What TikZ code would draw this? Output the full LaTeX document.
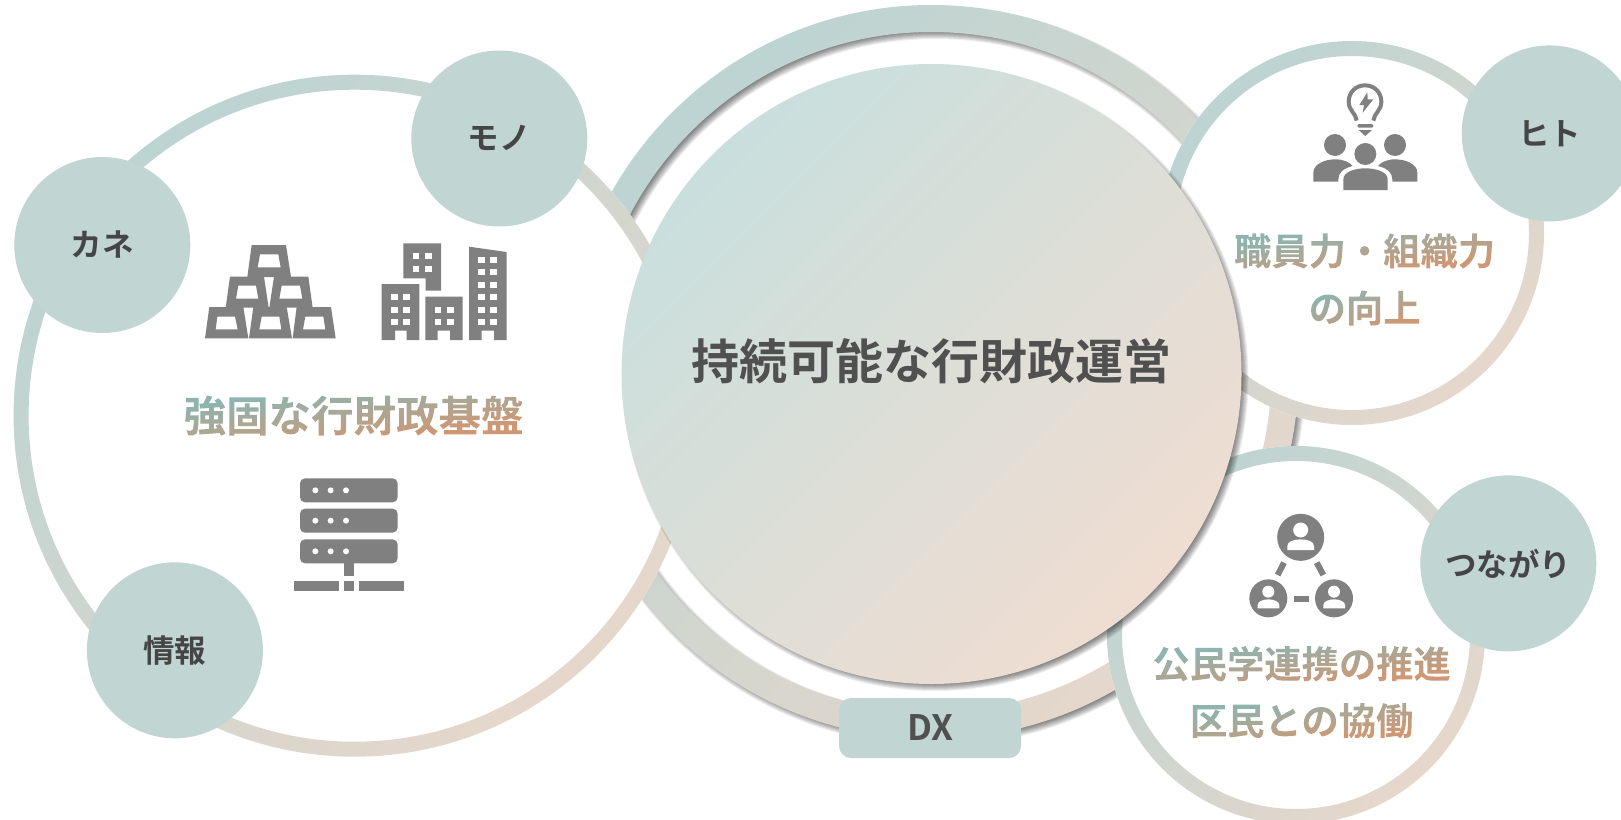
\documentclass[tikz,border=0pt]{standalone}
\usepackage{fontspec}
\setmainfont{Noto Sans CJK JP}
\newfontfamily\jpbold{Noto Sans CJK JP Bold}
\definecolor{gA}{HTML}{8FB3AF}
\definecolor{gB}{HTML}{CF9773}
\definecolor{ringA}{HTML}{BCD4D2}
\definecolor{ringB}{HTML}{E6D7CB}
\definecolor{midA}{HTML}{C9DFDD}
\definecolor{midB}{HTML}{EFDDD1}
\definecolor{teal}{HTML}{C1D5D3}
\definecolor{ink}{HTML}{454545}
\definecolor{titleink}{HTML}{505050}
\definecolor{icon}{HTML}{808080}
\newsavebox\gbox
\newcommand{\gtext}[1]{%
  \sbox\gbox{#1}%
  \pgfmathsetmacro\gw{\wd\gbox/100}%
  \pgfmathsetmacro\gh{(\ht\gbox+\dp\gbox)/100}%
  \pgfmathsetmacro\gd{\dp\gbox}%
  \special{x:gsave}%
  \rlap{\special{pdf:code 7 Tr}#1\special{pdf:code 0 Tr}}%
  \tikz[overlay,x=1pt,y=1pt]{\begin{scope}[transform canvas={yshift=-\gd pt,xscale=\gw,yscale=\gh}]
    \shade[top color=gA,bottom color=gB,shading angle=45] (0,0) rectangle (100,100);\end{scope}}%
  \special{x:grestore}%
  \phantom{#1}}
\newcommand{\lifted}[1]{\raisebox{1.6pt}{#1}}
\tikzset{
  gradring/.style={even odd rule,top color=ringA,bottom color=ringB,shading angle=45},
  smallc/.style={circle,fill=teal,minimum size=176pt,inner sep=0pt,text=ink,font=\jpbold\fontsize{31.5}{32}\selectfont},
  dxbox/.style={rectangle,rounded corners=12pt,fill=teal,minimum width=182pt,minimum height=60pt,inner sep=0pt,text=titleink,font=\jpbold\fontsize{35}{36}\selectfont},
  titletext/.style={inner sep=0pt,text=titleink,font=\jpbold\fontsize{48}{48}\selectfont},
  bigtext/.style={inner sep=0pt,font=\jpbold\fontsize{42.5}{43}\selectfont},
  midtext/.style={inner sep=0pt,font=\jpbold\fontsize{37.3}{38}\selectfont},
  zoomframe/.style={shift={#1},x=0.33333pt,y=-0.33333pt},
}
\newcommand{\gridwin}[2]{\foreach \wx in {#1}{\foreach \wy in {#2}{\fill[white] (\wx,\wy) rectangle ++(20,18);}}}
\begin{document}
\begin{tikzpicture}[x=1pt,y=-1pt]
\useasboundingbox (0,0) rectangle (1621,819);
\fill[white] (0,0) rectangle (1621,819);
\clip (0,0) rectangle (1621,819);
% big ring with shadow
\foreach \i in {0,...,9}{
  \fill[black,opacity=.07,even odd rule] (935.5,376) circle[radius={370-\i*1 pt}] (935.5,376) circle[radius={337+\i*1 pt}];
}
\shade[gradring] (931.5,372) circle[radius=367pt] (931.5,372) circle[radius=340pt];
% left circle
\fill[white] (354.6,415.7) circle[radius=341pt];
\shade[gradring] (354.6,415.7) circle[radius=341pt] (354.6,415.7) circle[radius=326pt];
% top-right circle
\fill[white] (1352,233) circle[radius=192pt];
\shade[gradring] (1352,233) circle[radius=192pt] (1352,233) circle[radius=177pt];
% bottom-right circle
\fill[white] (1296,635) circle[radius=189pt];
\shade[gradring] (1296,635) circle[radius=189pt] (1296,635) circle[radius=174pt];
% central disc with shadow
\foreach \i in {0,...,9}{
  \fill[black,opacity=.07] (935.5,378) circle[radius={313-\i*1 pt}];
}
\shade[top color=midA,bottom color=midB,shading angle=45] (931.5,374) circle[radius=310pt];
\node[titletext] (title) at (931,361) {持続可能な行財政運営};
% small circles
\node[smallc] (kane) at (102.3,245) {\lifted{カネ}};
\node[smallc] (mono) at (499.3,138.5) {\lifted{モノ}};
\node[smallc] (joho) at (174.9,650.3) {\lifted{情報}};
\node[smallc] (hito) at (1549.7,133.4) {\lifted{ヒト}};
\node[smallc] (tsunagari) at (1508.3,563.4) {\lifted{つながり}};
\node[dxbox] (dx) at (930,728) {DX};
% gradient labels
\node[bigtext] (kiban) at (353.6,415.6) {\gtext{強固な行財政基盤}};
\node[midtext] (l1) at (1364.6,251) {\gtext{職員力・組織力}};
\node[midtext] (l2) at (1364.6,308) {\gtext{の向上}};
\node[midtext] (l3) at (1301.6,663.7) {\gtext{公民学連携の推進}};
\node[midtext] (l4) at (1301.6,720.6) {\gtext{区民との協働}};
% gold bars
\begin{scope}[zoomframe={(180,220)},even odd rule]
\fill[icon] (215,75)--(318,75)--(333,171)--(202,171)--cycle (240,103)--(295,103)--(302,142)--(233,142)--cycle;
\fill[icon] (150,170)--(252,170)--(266,263)--(137,263)--cycle (175,197)--(228,197)--(235,236)--(168,236)--cycle;
\fill[icon] (282,170)--(385,170)--(398,263)--(268,263)--cycle (305,197)--(360,197)--(367,236)--(298,236)--cycle;
\fill[icon] (88,261)--(190,261)--(205,355)--(75,355)--cycle (112,290)--(165,290)--(173,328)--(107,328)--cycle;
\fill[icon] (220,261)--(320,261)--(336,355)--(207,355)--cycle (245,290)--(298,290)--(304,328)--(238,328)--cycle;
\fill[icon] (350,261)--(453,261)--(467,355)--(338,355)--cycle (376,290)--(430,290)--(436,328)--(369,328)--cycle;
\end{scope}
% buildings
\begin{scope}[zoomframe={(180,220)}]
\fill[icon] (670,70)--(783,70)--(783,212)--(737,212)--(737,175)--(670,175)--cycle;
\fill[icon] (605,192)--(718,192)--(718,360)--(680,360)--(680,332)--(645,332)--(645,360)--(605,360)--cycle;
\fill[icon] (736,230)--(848,230)--(848,360)--(810,360)--(810,332)--(773,332)--(773,360)--(736,360)--cycle;
\fill[icon] (867,80)--(980,96)--(980,360)--(942,360)--(942,332)--(905,332)--(905,360)--(867,360)--cycle;
\gridwin{698,736}{100,137}
\gridwin{633,670}{222,260,297}
\gridwin{764,801}{260,297}
\gridwin{894,931}{112,148,185,222,260,297}
% server
\foreach \ry in {775,866,958}{
  \fill[icon,rounded corners=5pt] (360,\ry) rectangle (653,\ry+72);
  \foreach \dx in {406,452,498}{\fill[white] (\dx,\ry+36) circle[radius=3pt];}
}
\fill[icon] (492,1030) rectangle (522,1067);
\fill[icon] (342,1083) rectangle (477,1112);
\fill[icon] (492,1083) rectangle (522,1112);
\fill[icon] (537,1083) rectangle (672,1112);
\end{scope}
% people and bulb
\begin{scope}[zoomframe={(1280,60)}]
\draw[icon,line width=4pt,fill=white] (230,182) .. controls (228,160) and (206,152) .. (206,125) .. controls (206,97) and (227,76) .. (255,76) .. controls (283,76) and (304,97) .. (304,125) .. controls (304,152) and (282,160) .. (280,182);
\fill[icon] (262,97)--(238,135)--(252,135)--(248,158)--(280,118)--(263,118)--cycle;
\fill[icon,rounded corners=1.5pt] (232,192) rectangle (280,203);
\fill[icon] (236,210)--(276,210)--(256,228)--cycle;
\fill[icon] (165,255) circle[radius=11pt];
\fill[icon] (345,255) circle[radius=11pt];
\fill[icon] (256,282) circle[radius=11pt];
\fill[icon] (100,365)--(100,338) .. controls (100,312) and (135,298) .. (165,298) .. controls (190,298) and (208,306) .. (218,318) .. controls (190,325) and (175,338) .. (175,358)--(175,365)--cycle;
\fill[icon] (412,365)--(412,338) .. controls (412,312) and (377,298) .. (345,298) .. controls (322,298) and (304,306) .. (294,318) .. controls (322,325) and (337,338) .. (337,358)--(337,365)--cycle;
\fill[icon] (190,390)--(190,358) .. controls (190,335) and (225,325) .. (256,325) .. controls (287,325) and (323,335) .. (323,358)--(323,390)--cycle;
\end{scope}
% network
\begin{scope}[zoomframe={(1230,500)}]
\fill[icon] (212,112) circle[radius=23.5pt];
\fill[white] (212,90) circle[radius=7.5pt];
\fill[white] (172,150)--(172,138) .. controls (172,125) and (190,118) .. (212,118) .. controls (234,118) and (252,125) .. (252,138)--(252,150)--cycle;
\fill[icon] (115,295) circle[radius=19pt];
\fill[white] (115,275) circle[radius=6pt];
\fill[white] (83,325)--(83,315) .. controls (83,305) and (98,298) .. (115,298) .. controls (132,298) and (148,305) .. (148,315)--(148,325)--cycle;
\fill[icon] (312,295) circle[radius=19pt];
\fill[white] (312,275) circle[radius=6pt];
\fill[white] (280,325)--(280,315) .. controls (280,305) and (295,298) .. (312,298) .. controls (329,298) and (345,305) .. (345,315)--(345,325)--cycle;
\draw[icon,line width=6pt] (162,188)--(143,225);
\draw[icon,line width=6pt] (260,188)--(280,225);
\draw[icon,line width=6pt] (192,297)--(238,297);
\end{scope}
\end{tikzpicture}
\end{document}
